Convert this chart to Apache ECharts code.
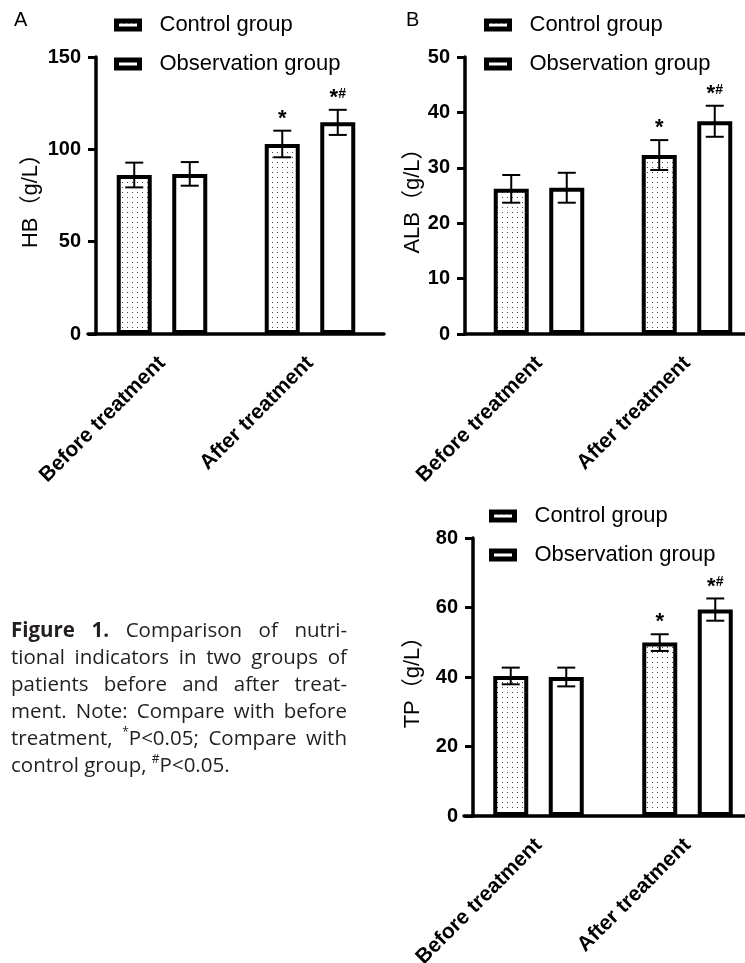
<!DOCTYPE html>
<html>
<head>
<meta charset="utf-8">
<script src="https://cdn.jsdelivr.net/npm/echarts@6/dist/echarts.min.js"></script>
<style>
  html, body { margin: 0; padding: 0; background: #fff; }
  #main { width: 745px; height: 963px; }
</style>
</head>
<body>
<div id="main"></div>
<script>
const categories = ['Before treatment', 'After treatment']
const groupNames = ['Control group', 'Observation group']

// HB (g/L)
const hbControl = [86.1, 102.9]
const hbControlSd = [6.7, 7.2]
const hbObservation = [86.7, 114.6]
const hbObservationSd = [6.4, 6.8]
const hbTicks = [0, 50, 100, 150]

// ALB (g/L)
const albControl = [26.2, 32.3]
const albControlSd = [2.5, 2.7]
const albObservation = [26.4, 38.4]
const albObservationSd = [2.7, 2.8]
const albTicks = [0, 10, 20, 30, 40, 50]

// TP (g/L)
const tpControl = [40.3, 49.9]
const tpControlSd = [2.4, 2.4]
const tpObservation = [40.0, 59.4]
const tpObservationSd = [2.7, 3.2]
const tpTicks = [0, 20, 40, 60, 80]

// significance marks
const controlMarks = ['', '*']
const observationMarks = ['', '*#']

// caption text ("@" = bold word, "^" = superscript first char)
const captionLines = [
  '@Figure @1. Comparison of nutri-',
  'tional indicators in two groups of',
  'patients before and after treat-',
  'ment. Note: Compare with before',
  'treatment, ^*P<0.05; Compare with',
  'control group, ^#P<0.05.'
]

const FONT = '"Liberation Sans", Arial, "Noto Sans CJK SC", sans-serif'
const CAP_FONT = '"Open Sans", "Liberation Sans", sans-serif'
const BAR_WIDTH = 35
const BAR_GAP = 0.586
const barOffset = BAR_WIDTH * (1 + BAR_GAP) / 2

// dotted fill for the control group
function dotPattern() {
  const c = document.createElement('canvas')
  c.width = 5
  c.height = 5
  const g = c.getContext('2d')
  g.fillStyle = '#fff'
  g.fillRect(0, 0, 5, 5)
  g.fillStyle = '#444'
  g.fillRect(2, 2, 1, 1)
  return { image: c, repeat: 'repeat' }
}
const dots = dotPattern()

const panels = [
  {
    letter: 'A', letterPos: [14, 10], yName: 'HB（g/L）', ticks: hbTicks,
    control: hbControl, controlSd: hbControlSd, observation: hbObservation, observationSd: hbObservationSd,
    grid: { left: 88, top: 57, width: 296, height: 277 }, axisOffset: -8, nameGap: 54,
    legend: { left: 114, top: 12 }
  },
  {
    letter: 'B', letterPos: [406, 10], yName: 'ALB（g/L）', ticks: albTicks,
    control: albControl, controlSd: albControlSd, observation: albObservation, observationSd: albObservationSd,
    grid: { left: 465, top: 57, width: 296, height: 277 }, axisOffset: 0, nameGap: 36,
    legend: { left: 484, top: 12 }
  },
  {
    letter: '', letterPos: [0, 0], yName: 'TP（g/L）', ticks: tpTicks,
    control: tpControl, controlSd: tpControlSd, observation: tpObservation, observationSd: tpObservationSd,
    grid: { left: 464, top: 538, width: 298, height: 278 }, axisOffset: -9, nameGap: 49,
    legend: { left: 489, top: 503 }
  }
]

function errorRender(marks) {
  return function (params, api) {
    const cat = api.value(0)
    const mean = api.value(1)
    const sd = api.value(2)
    const side = api.value(3) === 0 ? -1 : 1
    const top = api.coord([cat, mean + sd])
    const bot = api.coord([cat, mean - sd])
    const x = top[0] + side * barOffset
    const ls = { stroke: '#000', lineWidth: 2 }
    const children = [
      { type: 'line', shape: { x1: x, y1: top[1], x2: x, y2: bot[1] }, style: ls },
      { type: 'line', shape: { x1: x - 9, y1: top[1], x2: x + 9, y2: top[1] }, style: ls },
      { type: 'line', shape: { x1: x - 9, y1: bot[1], x2: x + 9, y2: bot[1] }, style: ls }
    ]
    const mark = marks[params.dataIndex]
    if (mark) {
      const txt = mark.length > 1 ? '{s|*}{h|#}' : '{s|*}'
      children.push({
        type: 'text',
        x: x,
        y: top[1] - 1,
        style: {
          text: txt,
          align: 'center',
          verticalAlign: 'bottom',
          rich: {
            s: { fontSize: 22, fontWeight: 'bold', fontFamily: FONT, fill: '#000', lineHeight: 22, verticalAlign: 'bottom' },
            h: { fontSize: 14, fontWeight: 'bold', fontFamily: FONT, fill: '#000', lineHeight: 22, verticalAlign: 'top' }
          }
        }
      })
    }
    return { type: 'group', children }
  }
}

const grids = []
const xAxes = []
const yAxes = []
const legends = []
const series = []
const graphics = []

panels.forEach((p, i) => {
  grids.push({ ...p.grid, containLabel: false, outerBoundsMode: 'none' })
  xAxes.push({
    type: 'category',
    gridIndex: i,
    data: categories,
    axisLine: { lineStyle: { color: '#000', width: 3.5 } },
    axisTick: { alignWithLabel: true, length: 9, lineStyle: { color: '#000', width: 3 } },
    axisLabel: { rotate: 45, interval: 0, fontSize: 21, fontWeight: 'bold', color: '#000', fontFamily: FONT, margin: 26 }
  })
  const t = p.ticks
  yAxes.push({
    type: 'value',
    gridIndex: i,
    min: t[0],
    max: t[t.length - 1],
    interval: t[1] - t[0],
    offset: p.axisOffset,
    name: p.yName,
    nameLocation: 'middle',
    nameRotate: 90,
    nameGap: p.nameGap,
    nameTextStyle: { fontSize: 22, color: '#000', fontFamily: FONT },
    axisLine: { show: true, lineStyle: { color: '#000', width: 3.5 } },
    axisTick: { show: true, length: 8, lineStyle: { color: '#000', width: 3 } },
    axisLabel: { fontSize: 20, fontWeight: 'bold', color: '#000', fontFamily: FONT, margin: 15 },
    splitLine: { show: false }
  })
  legends.push({
    data: groupNames,
    orient: 'vertical',
    left: p.legend.left,
    top: p.legend.top,
    padding: 0,
    icon: 'rect',
    itemWidth: 23,
    itemHeight: 8,
    itemGap: 13,
    selectedMode: false,
    itemStyle: { borderColor: '#000', borderWidth: 5 },
    textStyle: { fontSize: 22, color: '#000', fontFamily: FONT, lineHeight: 26, padding: [0, 0, 0, 15] }
  })
  series.push({
    name: groupNames[0],
    type: 'bar',
    xAxisIndex: i,
    yAxisIndex: i,
    barWidth: BAR_WIDTH,
    barGap: (BAR_GAP * 100) + '%',
    itemStyle: { color: dots, borderColor: '#000', borderWidth: 4 },
    data: p.control,
    z: 2
  })
  series.push({
    name: groupNames[1],
    type: 'bar',
    xAxisIndex: i,
    yAxisIndex: i,
    barWidth: BAR_WIDTH,
    barGap: (BAR_GAP * 100) + '%',
    itemStyle: { color: '#fff', borderColor: '#000', borderWidth: 4 },
    data: p.observation,
    z: 2
  })
  series.push({
    type: 'custom',
    xAxisIndex: i,
    yAxisIndex: i,
    renderItem: errorRender(controlMarks),
    data: p.control.map((v, k) => [k, v, p.controlSd[k], 0]),
    z: 5,
    silent: true
  })
  series.push({
    type: 'custom',
    xAxisIndex: i,
    yAxisIndex: i,
    renderItem: errorRender(observationMarks),
    data: p.observation.map((v, k) => [k, v, p.observationSd[k], 1]),
    z: 5,
    silent: true
  })
  if (p.letter) {
    graphics.push({
      type: 'text',
      x: p.letterPos[0],
      y: p.letterPos[1],
      style: { text: p.letter, fontSize: 20, fontFamily: FONT, fill: '#000' }
    })
  }
})

// caption, justified like the journal layout
const CAP_SIZE = 20.5
const capFonts = {
  n: CAP_SIZE + 'px ' + CAP_FONT,
  b: 'bold ' + CAP_SIZE + 'px ' + CAP_FONT,
  s: Math.round(CAP_SIZE * 0.6) + 'px ' + CAP_FONT
}
const measureCtx = document.createElement('canvas').getContext('2d')
function measure(str, font) {
  measureCtx.font = font
  return measureCtx.measureText(str).width
}
function parseWord(w) {
  if (w[0] === '@') return [{ t: w.slice(1), f: 'b' }]
  if (w[0] === '^') return [{ t: w[1], f: 's' }, { t: w.slice(2), f: 'n' }]
  return [{ t: w, f: 'n' }]
}
const capLeft = 11
const capRight = 347
const capTop = 631
const capLineHeight = 27
captionLines.forEach((line, li) => {
  const words = line.split(' ').map(parseWord)
  const widths = words.map(segs => segs.reduce((s, sg) => s + measure(sg.t, capFonts[sg.f]), 0))
  const total = widths.reduce((a, b) => a + b, 0)
  const last = li === captionLines.length - 1
  const gap = last ? measure(' ', capFonts.n) : (capRight - capLeft - total) / (words.length - 1)
  let x = capLeft
  const y = capTop + li * capLineHeight
  words.forEach((segs, wi) => {
    let sx = x
    segs.forEach(sg => {
      graphics.push({
        type: 'text',
        x: sx,
        y: sg.f === 's' ? y - 6 : y,
        style: { text: sg.t, font: capFonts[sg.f], fill: '#231f20', verticalAlign: 'middle', textVerticalAlign: 'middle' }
      })
      sx += measure(sg.t, capFonts[sg.f])
    })
    x += widths[wi] + gap
  })
})

const chart = echarts.init(document.getElementById('main'), null, { renderer: 'canvas' })
chart.setOption({
  animation: false,
  backgroundColor: '#fff',
  textStyle: { fontFamily: FONT },
  grid: grids,
  xAxis: xAxes,
  yAxis: yAxes,
  legend: legends,
  series: series,
  graphic: graphics
})
</script>
</body>
</html>
